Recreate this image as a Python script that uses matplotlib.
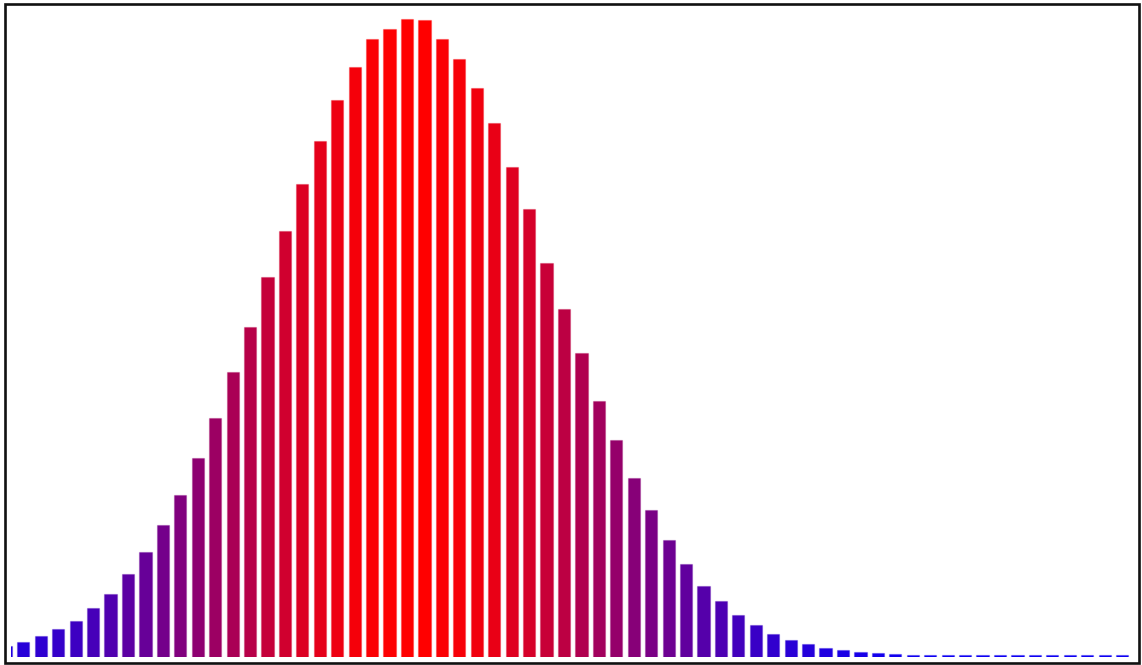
import numpy as np
import matplotlib
matplotlib.use("Agg")
import matplotlib.pyplot as plt
from matplotlib.patches import Rectangle

# bin index and bar heights
bins = list(range(65))
values = [11, 14.7, 20.7, 28, 36.3, 48.7, 63.3, 83, 105, 131.7,
          162.3, 198.7, 239.3, 284.7, 330, 380.3, 425.7, 473, 516, 557,
          590.3, 617.7, 628, 638.3, 636.7, 618, 598, 569.3, 533.7, 490.3,
          447.7, 394.5, 348, 303.7, 256.3, 217, 178.7, 147.3, 116.7, 93.3,
          71, 56.3, 42.3, 31.7, 23.3, 16.7, 12.7, 9.3, 6.7, 5,
          3.7, 2.7, 2.3, 1.7, 1.7, 1.7, 1.7, 1.7, 1.7, 1.7,
          1.7, 1.7, 1.7, 1.7, 1.7]

W, H = 1142, 665
fig = plt.figure(figsize=(W / 100, H / 100), dpi=100)
fig.patch.set_facecolor("white")

left_px, right_px, bottom_px, top_px = 11, 1133, 657, 3.5
ax = fig.add_axes([left_px / W, (H - bottom_px) / H,
                   (right_px - left_px) / W, (bottom_px - top_px) / H])

vals = np.array(values, dtype=float)
t = np.sqrt(vals / vals.max())
colors = [(ti, 0.0, 1.0 - ti) for ti in t]
edges = [(ti, 0.0, 1.0 - ti, 0.3) for ti in t]

ax.bar(bins, vals, width=0.7, color=colors, edgecolor=edges, linewidth=0.9)

# map pixel extents to data coordinates (bar centre i at pixel 5.9 + 17.44*i)
x0 = (left_px - 5.9) / 17.44
x1 = (right_px - 5.9) / 17.44
ax.set_xlim(x0, x1)
ax.set_ylim(0, bottom_px - top_px)
ax.axis("off")

border = Rectangle((4.5 / W, (H - 663) / H), (1138.8 - 4.5) / W, (663 - 3.5) / H,
                   transform=fig.transFigure, fill=False, edgecolor="#111111",
                   linewidth=1.9, zorder=10)
fig.patches.append(border)

fig.savefig("out.png", dpi=100)
